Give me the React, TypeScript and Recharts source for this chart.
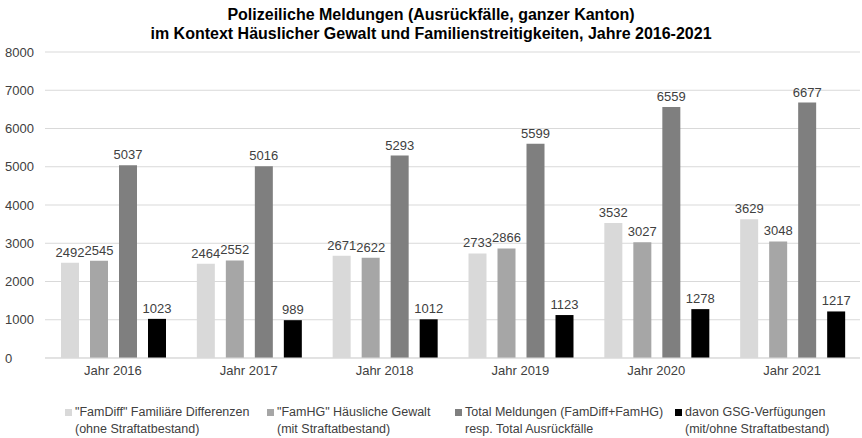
import { BarChart, Bar, XAxis, YAxis, CartesianGrid, Legend, LabelList } from 'recharts';

const years = ['Jahr 2016', 'Jahr 2017', 'Jahr 2018', 'Jahr 2019', 'Jahr 2020', 'Jahr 2021'];
const famDiff = [2492, 2464, 2671, 2733, 3532, 3629];
const famHG = [2545, 2552, 2622, 2866, 3027, 3048];
const total = [5037, 5016, 5293, 5599, 6559, 6677];
const gsg = [1023, 989, 1012, 1123, 1278, 1217];
const yTicks = [0, 1000, 2000, 3000, 4000, 5000, 6000, 7000, 8000];

const seriesInfo = [
  { key: 'famDiff', color: '#d9d9d9', line1: '"FamDiff" Familiäre Differenzen', line2: '(ohne Straftatbestand)', x: 65 },
  { key: 'famHG', color: '#a6a6a6', line1: '"FamHG" Häusliche Gewalt', line2: '(mit Straftatbestand)', x: 267 },
  { key: 'total', color: '#7f7f7f', line1: 'Total Meldungen (FamDiff+FamHG)', line2: 'resp. Total Ausrückfälle', x: 455 },
  { key: 'gsg', color: '#000000', line1: 'davon GSG-Verfügungen', line2: '(mit/ohne Straftatbestand)', x: 675 },
];

const data = years.map((year, i) => ({
  year,
  famDiff: famDiff[i],
  famHG: famHG[i],
  total: total[i],
  gsg: gsg[i],
}));

const font = 'Arial, "Liberation Sans", sans-serif';

function LegendBlock() {
  return (
    <div style={{ position: 'relative', height: 46, width: 862, fontFamily: font, fontSize: 12.5, color: '#404040' }}>
      {seriesInfo.map((s) => (
        <div key={s.key} style={{ position: 'absolute', left: s.x, top: 16, lineHeight: '17px', whiteSpace: 'nowrap' }}>
          <span style={{ display: 'inline-block', width: 7, height: 7, background: s.color, marginRight: 3 }} />
          {s.line1}
          <br />
          <span style={{ display: 'inline-block', width: 10 }} />
          {s.line2}
        </div>
      ))}
    </div>
  );
}

export default function App() {
  return (
    <div style={{ position: 'absolute', left: 0, top: 0, width: 862, height: 438, background: '#fff' }}>
      <div style={{ position: 'absolute', top: 5, width: 862, textAlign: 'center', fontFamily: font, fontWeight: 'bold', fontSize: 16, lineHeight: '19px', color: '#000' }}>
        Polizeiliche Meldungen (Ausrückfälle, ganzer Kanton)
        <br />
        im Kontext Häuslicher Gewalt und Familienstreitigkeiten, Jahre 2016-2021
      </div>
      <BarChart width={862} height={438} data={data} margin={{ top: 52, right: 2, left: 0, bottom: 4 }}
        barGap={11} barCategoryGap={16}>
        <CartesianGrid vertical={false} stroke="#d9d9d9" />
        <XAxis dataKey="year" tickLine={false} axisLine={{ stroke: '#d9d9d9' }} height={30}
          tick={{ fill: '#404040', fontSize: 13, fontFamily: font }} />
        <YAxis domain={[0, 8000]} ticks={yTicks} width={45} tickLine={false} axisLine={false}
          tick={{ fill: '#404040', fontSize: 13, fontFamily: font, textAnchor: 'start' }} dx={-32} />
        <Legend verticalAlign="bottom" height={46} content={() => <LegendBlock />} />
        {seriesInfo.map((s) => (
          <Bar key={s.key} dataKey={s.key} fill={s.color} isAnimationActive={false}>
            <LabelList dataKey={s.key} position="top" offset={6} fill="#404040" fontSize={13} fontFamily={font} />
          </Bar>
        ))}
      </BarChart>
    </div>
  );
}
